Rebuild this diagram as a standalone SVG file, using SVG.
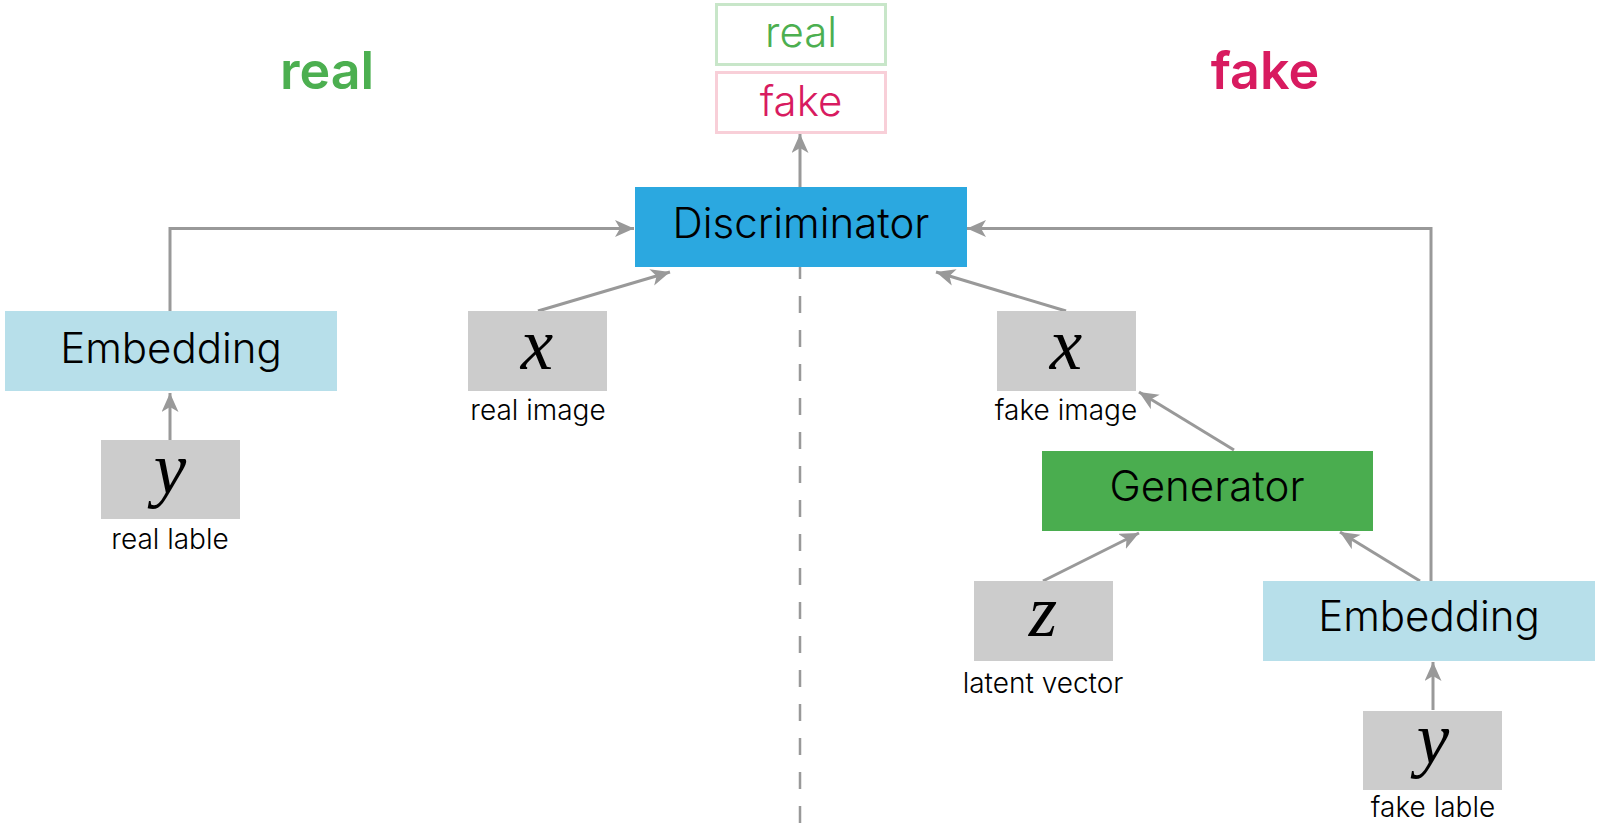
<svg xmlns="http://www.w3.org/2000/svg" width="1600" height="830" viewBox="0 0 1600 830">
<style>
.lbl{font-family:Inter,"Noto Sans","Liberation Sans",sans-serif;font-size:42px;font-weight:300;fill:#000;text-anchor:middle}
.sm{font-family:Inter,"Noto Sans","Liberation Sans",sans-serif;font-size:28px;font-weight:300;fill:#000;text-anchor:middle}
.math{font-family:"Liberation Serif","Times New Roman",serif;font-style:italic;font-size:73px;fill:#000;text-anchor:middle}
.title{font-family:Inter,"Noto Sans","Liberation Sans",sans-serif;font-size:52px;font-weight:600;text-anchor:middle}
.gray{fill:#cccccc}
.emb{fill:#b7dfea}
.conn{fill:none;stroke:#999999;stroke-width:3}
</style>
<defs>
<marker id="arr" markerUnits="userSpaceOnUse" markerWidth="20" markerHeight="18" refX="19" refY="8.5" orient="auto">
<path d="M0,0 L19,8.5 L0,17 L5,8.5 Z" fill="#999999"/>
</marker>
</defs>
<rect width="1600" height="830" fill="#ffffff"/>
<text class="title" x="327" y="89" fill="#4caf50">real</text>
<text class="title" x="1265" y="89" fill="#d81b60">fake</text>
<g id="connectors">
<line x1="800" y1="262" x2="800" y2="827" stroke="#999999" stroke-width="2.5" stroke-dasharray="17 17"/>
<polyline class="conn" points="170,311 170,228.5 634,228.5" marker-end="url(#arr)"/>
<line class="conn" x1="538" y1="311" x2="670" y2="272" marker-end="url(#arr)"/>
<line class="conn" x1="800" y1="187" x2="800" y2="134" marker-end="url(#arr)"/>
<polyline class="conn" points="1431,581 1431,228.5 967,228.5" marker-end="url(#arr)"/>
<line class="conn" x1="1066" y1="311" x2="936" y2="272" marker-end="url(#arr)"/>
<line class="conn" x1="1234" y1="450" x2="1139" y2="392" marker-end="url(#arr)"/>
<line class="conn" x1="1043" y1="581" x2="1139" y2="533" marker-end="url(#arr)"/>
<line class="conn" x1="1420" y1="581" x2="1340" y2="532" marker-end="url(#arr)"/>
<line class="conn" x1="170" y1="440" x2="170" y2="393" marker-end="url(#arr)"/>
<line class="conn" x1="1433" y1="710" x2="1433" y2="662" marker-end="url(#arr)"/>
</g>
<g id="out-real">
<rect x="716.5" y="4.5" width="169" height="60" fill="#ffffff" stroke="#c8e6c9" stroke-width="3"/>
<text class="lbl" x="801" y="47" style="fill:#4caf50">real</text>
</g>
<g id="out-fake">
<rect x="716.5" y="72.5" width="169" height="60" fill="#ffffff" stroke="#f8cfd8" stroke-width="3"/>
<text class="lbl" x="801" y="116" style="fill:#d81b60">fake</text>
</g>
<g id="discriminator">
<rect x="635" y="187" width="332" height="80" fill="#2ba8e0"/>
<text class="lbl" x="801" y="238">Discriminator</text>
</g>
<g id="embedding-real">
<rect x="5" y="311" width="332" height="80" class="emb"/>
<text class="lbl" x="171" y="363">Embedding</text>
</g>
<g id="real-image">
<rect x="468" y="311" width="139" height="80" class="gray"/>
<text class="math" x="537" y="369">x</text>
<text class="sm" x="538" y="420">real image</text>
</g>
<g id="real-label">
<rect x="101" y="440" width="139" height="79" class="gray"/>
<text class="math" x="170" y="493">y</text>
<text class="sm" x="170" y="549">real lable</text>
</g>
<g id="fake-image">
<rect x="997" y="311" width="139" height="80" class="gray"/>
<text class="math" x="1066" y="369">x</text>
<text class="sm" x="1066" y="420">fake image</text>
</g>
<g id="generator">
<rect x="1042" y="451" width="331" height="80" fill="#4aad4f"/>
<text class="lbl" x="1207" y="501">Generator</text>
</g>
<g id="latent">
<rect x="974" y="581" width="139" height="80" class="gray"/>
<text class="math" x="1043" y="636">z</text>
<text class="sm" x="1043" y="693">latent vector</text>
</g>
<g id="embedding-fake">
<rect x="1263" y="581" width="332" height="80" class="emb"/>
<text class="lbl" x="1429" y="631">Embedding</text>
</g>
<g id="fake-label">
<rect x="1363" y="711" width="139" height="79" class="gray"/>
<text class="math" x="1433" y="763">y</text>
<text class="sm" x="1433" y="817">fake lable</text>
</g>
</svg>
